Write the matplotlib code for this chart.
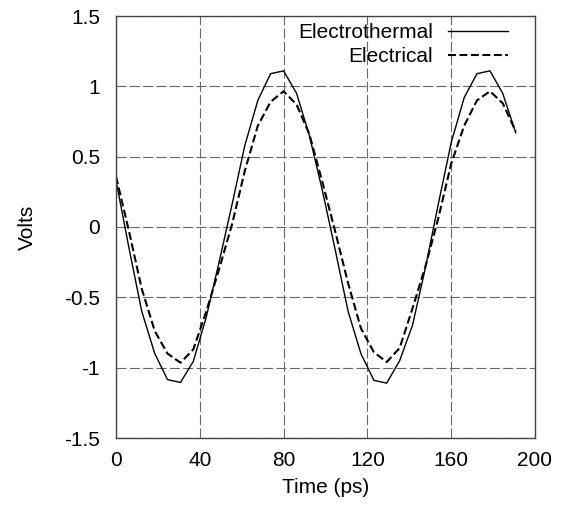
import matplotlib
matplotlib.use("Agg")
import matplotlib.pyplot as plt

# ============================
# DATOS
# ============================

time_ps = [0, 6.2, 12.3, 18.5, 24.6, 30.8, 36.9, 43.1, 49.2, 55.4, 61.5, 67.7,
           73.8, 80.0, 86.2, 92.3, 98.5, 104.6, 110.8, 116.9, 123.1, 129.2,
           135.4, 141.5, 147.7, 153.8, 160.0, 166.2, 172.3, 178.5, 184.6, 190.8]

electrothermal = [0.33, -0.15, -0.60, -0.90, -1.085, -1.105, -0.955, -0.64, -0.25,
                  0.16, 0.58, 0.90, 1.09, 1.11, 0.95, 0.65, 0.26, -0.16, -0.60,
                  -0.90, -1.09, -1.11, -0.95, -0.70, -0.29, 0.16, 0.60, 0.92,
                  1.09, 1.11, 0.95, 0.67]

electrical = [0.36, -0.03, -0.44, -0.74, -0.90, -0.965, -0.87, -0.60, -0.30,
              0.02, 0.40, 0.72, 0.89, 0.965, 0.87, 0.66, 0.32, -0.03, -0.40,
              -0.72, -0.89, -0.96, -0.86, -0.58, -0.28, 0.06, 0.45, 0.72,
              0.90, 0.965, 0.88, 0.68]

x_ticks = [0, 40, 80, 120, 160, 200]
y_ticks = [-1.5, -1, -0.5, 0, 0.5, 1, 1.5]
y_tick_labels = ["-1.5", "-1", "-0.5", "0", "0.5", "1", "1.5"]

# ============================
# FIGURA
# ============================

plt.rcParams["font.family"] = ["Liberation Sans", "DejaVu Sans"]
plt.rcParams["font.size"] = 15

fig = plt.figure(figsize=(5.62, 5.08), dpi=100)
ax = fig.add_axes([116 / 562, 1 - 438 / 508, 419 / 562, 422 / 508])

ax.plot(time_ps, electrothermal, color="black", lw=1.0, label="Electrothermal")
ax.plot(time_ps, electrical, color="black", lw=1.5, linestyle=(0, (3.8, 1.7)),
        label="Electrical")

ax.set_xlim(0, 200)
ax.set_ylim(-1.5, 1.5)
ax.set_xticks(x_ticks)
ax.set_yticks(y_ticks)
ax.set_yticklabels(y_tick_labels)
ax.tick_params(axis="both", length=0, labelsize=15)
ax.tick_params(axis="x", pad=9.4)
ax.tick_params(axis="y", pad=11.5)

ax.grid(True, color="#666666", lw=0.8, linestyle=(0, (9, 3)))
for s in ax.spines.values():
    s.set_color("#444444")
    s.set_linewidth(1.0)

ax.set_xlabel("Time (ps)", fontsize=15)
ax.set_ylabel("Volts", fontsize=15)
ax.xaxis.set_label_coords(0.5, -(478 - 438) / 422)
ax.yaxis.set_label_coords(-(116 - 37) / 419, 0.5)

ax.legend(loc="upper right", frameon=False, markerfirst=False,
          bbox_to_anchor=((508 - 116) / 419, (438 - 23) / 422),
          borderpad=0, borderaxespad=0, handlelength=2.9,
          handletextpad=0.7, labelspacing=0.25, fontsize=15)

fig.savefig("out.png", dpi=100)
